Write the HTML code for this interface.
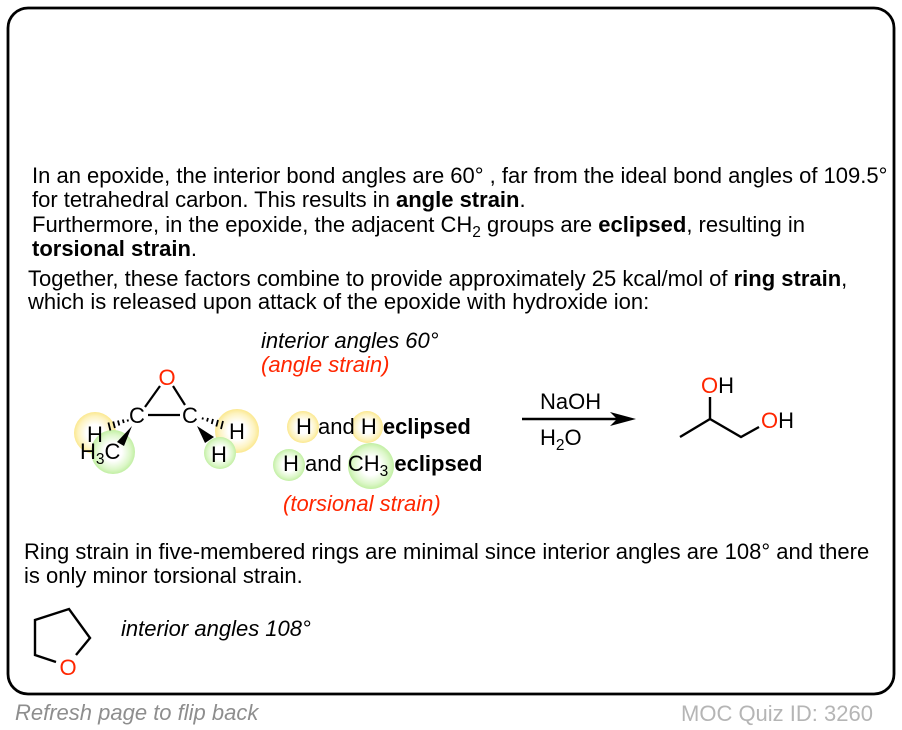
<!DOCTYPE html>
<html><head><meta charset="utf-8"><style>
html,body{margin:0;padding:0;background:#fff}
svg{display:block}
text{font-family:"Liberation Sans",sans-serif;font-size:22px;fill:#000}
.b{font-weight:bold}
.i{font-style:italic}
.r{fill:#ff2600}
.g{fill:#8e8e8e;font-style:italic}
</style></head><body>
<svg width="902" height="730" viewBox="0 0 902 730" xmlns="http://www.w3.org/2000/svg">
<defs>
<radialGradient id="y"><stop offset="0.4" stop-color="#fff"/><stop offset="0.8" stop-color="#fdf3c0"/><stop offset="1" stop-color="#fbe88f"/></radialGradient>
<radialGradient id="gr"><stop offset="0.4" stop-color="#fff"/><stop offset="0.8" stop-color="#dcf7c8"/><stop offset="1" stop-color="#c2efa4"/></radialGradient>
</defs>
<rect x="8" y="8" width="886" height="686" rx="20" fill="#fff" stroke="#000" stroke-width="2.8"/>

<text x="32" y="183">In an epoxide, the interior bond angles are 60° , far from the ideal bond angles of 109.5°</text>
<text x="32" y="207">for tetrahedral carbon. This results in <tspan class="b">angle strain</tspan>.</text>
<text x="32" y="232">Furthermore, in the epoxide, the adjacent CH<tspan font-size="15.5" dy="5">2</tspan><tspan dy="-5"> groups are </tspan><tspan class="b">eclipsed</tspan>, resulting in</text>
<text x="32" y="256" class="b">torsional strain<tspan font-weight="normal">.</tspan></text>
<text x="28" y="286">Together, these factors combine to provide approximately 25 kcal/mol of <tspan class="b">ring strain</tspan>,</text>
<text x="28" y="309">which is released upon attack of the epoxide with hydroxide ion:</text>

<circle cx="95" cy="433" r="21" fill="url(#y)"/>
<circle cx="113" cy="452" r="22" fill="url(#gr)"/>
<circle cx="237" cy="431" r="22" fill="url(#y)"/>
<circle cx="220" cy="453" r="16" fill="url(#gr)"/>
<path d="M160 386L145 407M173 386L185 405M148 415H180" stroke="#000" stroke-width="2.2" fill="none"/>
<g stroke="#000" stroke-width="1.8" fill="none">
<path d="M127.500 419.500l.6 2M122.800 419.500l1 3.500M118 420.500l1.300 5M113.200 421.500l1.700 6.500M108.400 422.500l2 8"/>
<path d="M203 417.500l-.6 2M208 418l-1 3.500M213 419l-1.300 5M218 420l-1.700 6.500M223 421l-2 8"/>
</g>
<path d="M132 426L117 442L124 446Z" fill="#000"/>
<path d="M197 426L205 443L214 437Z" fill="#000"/>
<text x="167" y="385" text-anchor="middle" class="r">O</text>
<text x="137" y="423" text-anchor="middle">C</text>
<text x="190" y="423" text-anchor="middle">C</text>
<text x="95" y="442" text-anchor="middle">H</text>
<text x="80" y="459">H<tspan font-size="15.5" dy="5">3</tspan><tspan dy="-5">C</tspan></text>
<text x="237" y="439" text-anchor="middle">H</text>
<text x="219" y="462" text-anchor="middle">H</text>

<text x="261" y="348" class="i">interior angles 60°</text>
<text x="261" y="372" class="i r">(angle strain)</text>

<circle cx="303" cy="427" r="16" fill="url(#y)"/>
<circle cx="367" cy="427" r="16" fill="url(#y)"/>
<circle cx="289" cy="465" r="16" fill="url(#gr)"/>
<circle cx="371" cy="466" r="23" fill="url(#gr)"/>
<text x="296" y="434">H and H <tspan class="b">eclipsed</tspan></text>
<text x="283" y="471">H and CH<tspan font-size="15.5" dy="5">3</tspan><tspan dy="-5"> </tspan><tspan class="b">eclipsed</tspan></text>
<text x="283" y="511" class="i r">(torsional strain)</text>

<text x="540" y="409">NaOH</text>
<text x="540" y="445">H<tspan font-size="15.5" dy="5">2</tspan><tspan dy="-5">O</tspan></text>
<path d="M522 419H620" stroke="#000" stroke-width="2.6"/>
<path d="M610 412L636 419L610 426L617 419Z" fill="#000"/>

<path d="M680 437L710 419L741 437L759 427M710 419V397" stroke="#000" stroke-width="2.4" fill="none"/>
<text x="701" y="393"><tspan class="r">O</tspan>H</text>
<text x="761" y="428"><tspan class="r">O</tspan>H</text>

<text x="24" y="559">Ring strain in five-membered rings are minimal since interior angles are 108° and there</text>
<text x="24" y="583">is only minor torsional strain.</text>

<path d="M56 662L35 655V620L69 609L90 638L76 655" stroke="#000" stroke-width="2.4" fill="none"/>
<text x="68" y="675" text-anchor="middle" class="r">O</text>
<text x="121" y="636" class="i">interior angles 108°</text>

<text x="15" y="720" class="g">Refresh page to flip back</text>
<text x="681" y="721" style="fill:#b5b5b5">MOC Quiz ID: 3260</text>
</svg>
</body></html>
